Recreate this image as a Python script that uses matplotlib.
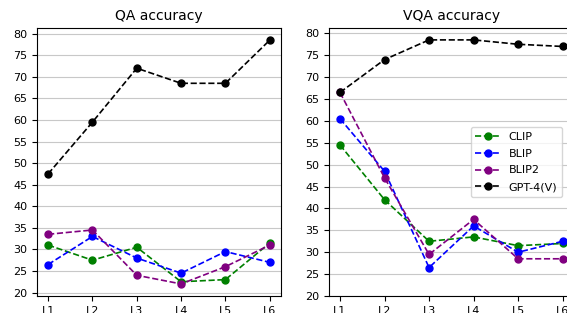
import numpy as np
import matplotlib.pyplot as plt

levels = ['L1', 'L2', 'L3', 'L4', 'L5', 'L6']
models = ['CLIP', 'BLIP', 'BLIP2', 'GPT-4(V)']
colors = ['green', 'blue', 'purple', 'black']

# QA accuracy
qa_clip = [31, 27.5, 30.5, 22.5, 23, 31.5]
qa_blip = [26.5, 33, 28, 24.5, 29.5, 27]
qa_blip2 = [33.5, 34.5, 24, 22, 26, 31]
qa_gpt = [47.5, 59.5, 72, 68.5, 68.5, 78.5]

# VQA accuracy
vqa_clip = [54.5, 42, 32.5, 33.5, 31.5, 32]
vqa_blip = [60.5, 48.5, 26.5, 36, 30, 32.5]
vqa_blip2 = [66.5, 47, 29.5, 37.5, 28.5, 28.5]
vqa_gpt = [66.5, 74, 78.5, 78.5, 77.5, 77]

yticks = np.arange(20, 81, 5)

fig = plt.figure(figsize=(5.67, 3.13), dpi=100)
ax1 = fig.add_axes([0.0653, 0.0543, 0.430, 0.856])
ax2 = fig.add_axes([0.580, 0.0543, 0.432, 0.856])

x = np.arange(len(levels))
for ax, series, title in [(ax1, [qa_clip, qa_blip, qa_blip2, qa_gpt], 'QA accuracy'),
                          (ax2, [vqa_clip, vqa_blip, vqa_blip2, vqa_gpt], 'VQA accuracy')]:
    for vals, name, c in zip(series, models, colors):
        ax.plot(x, vals, '--o', color=c, label=name, markersize=5, linewidth=1.2)
    ax.set_xticks(x)
    ax.set_xticklabels(levels, fontsize=8)
    ax.set_yticks(yticks)
    ax.tick_params(axis='y', labelsize=8)
    ax.grid(True, axis='y', color='#c8c8c8')
    ax.set_axisbelow(True)
    ax.set_title(title, fontsize=10)
    ax.set_xlim(-0.25, 5.25)

ax1.set_ylim(19.2, 81.3)
ax2.set_ylim(20, 81.2)
ax2.legend(loc='center right', bbox_to_anchor=(0.951, 0.5), borderaxespad=0,
           fontsize=8, labelspacing=0.62, handlelength=2.2)

fig.savefig('out.png', dpi=100)
